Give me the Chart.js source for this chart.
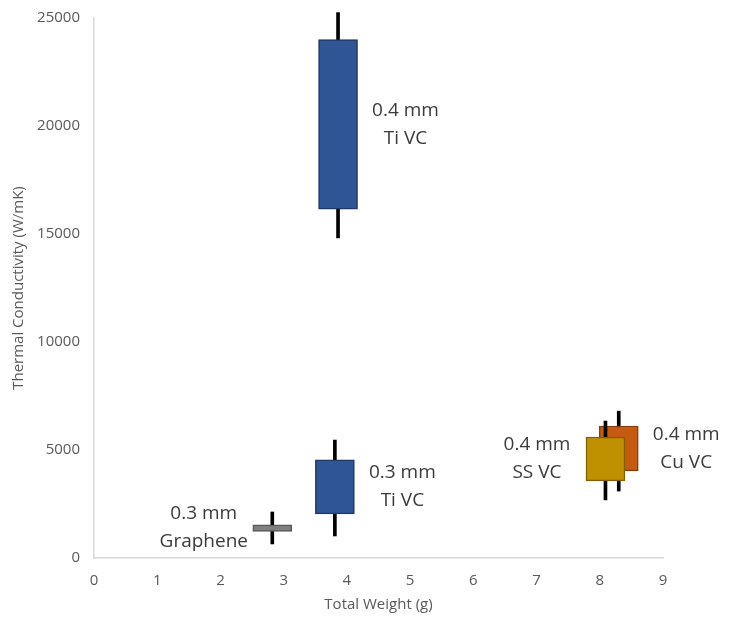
<!DOCTYPE html>
<html>
<head>
<meta charset="utf-8">
<script src="https://cdn.jsdelivr.net/npm/chart.js@4"></script>
<style>
  html, body { margin: 0; padding: 0; background: #fff; }
  #wrap { width: 733px; height: 618px; }
</style>
</head>
<body>
<div id="wrap"><canvas id="chart" width="733" height="618"></canvas></div>
<script>
// data
var names = ['0.3 mm|Graphene', '0.3 mm|Ti VC', '0.4 mm|Ti VC', '0.4 mm|Cu VC', '0.4 mm|SS VC'];
var weight = [2.82, 3.81, 3.86, 8.3, 8.09];
var boxLow = [1230, 2040, 16150, 4030, 3570];
var boxHigh = [1540, 4540, 24000, 6110, 5600];
var lowVals = [650, 1020, 14820, 3100, 2690];
var highVals = [2130, 5460, 25250, 6800, 6340];
var labelSide = ['left', 'right', 'right', 'right', 'left'];
var fills = ['#7f7f7f', '#2f5597', '#2f5597', '#c55a11', '#bf9000'];
var edges = ['#595959', '#203864', '#203864', '#843c0c', '#7f6000'];
var xTicks = [0, 1, 2, 3, 4, 5, 6, 7, 8, 9];
var yTicks = [0, 5000, 10000, 15000, 20000, 25000];

// whisker under its box, later items on top (dataset 0 is drawn last)
var sets = [];
for (var i = 0; i < names.length; i++) {
    sets.push({
        label: 'hl' + i,
        data: [{ x: weight[i], y: [lowVals[i], highVals[i]] }],
        backgroundColor: '#000',
        borderWidth: 0,
        barThickness: 3,
        clip: false
    });
    sets.push({
        label: names[i],
        data: [{ x: weight[i], y: [boxLow[i], boxHigh[i]] }],
        backgroundColor: fills[i],
        borderColor: edges[i],
        borderWidth: 1.5,
        borderSkipped: false,
        barThickness: 39,
        clip: false,
        boxIdx: i
    });
}
sets.reverse();

// labels next to each box
var boxLabels = {
    id: 'boxLabels',
    afterDatasetsDraw: function (chart) {
        var ctx = chart.ctx;
        ctx.save();
        ctx.font = '19px "Open Sans"';
        ctx.fillStyle = '#3a3a3a';
        ctx.textAlign = 'center';
        ctx.textBaseline = 'middle';
        chart.data.datasets.forEach(function (ds, di) {
            if (ds.boxIdx === undefined) return;
            var bar = chart.getDatasetMeta(di).data[0];
            var k = ds.boxIdx;
            var half = bar.width / 2;
            var cx = labelSide[k] == 'right' ? bar.x + half + 48 : bar.x - half - 49;
            var cy = (bar.y + bar.base) / 2;
            var lines = names[k].split('|');
            ctx.fillText(lines[0], cx, cy - 14);
            ctx.fillText(lines[1], cx, cy + 14);
        });
        ctx.restore();
    }
};

var tickFont = { family: '"Open Sans"', size: 15 };

new Chart(document.getElementById('chart').getContext('2d'), {
    type: 'bar',
    data: { datasets: sets },
    options: {
        responsive: false,
        animation: false,
        layout: { padding: { top: 18, right: 70, bottom: 0, left: 0 } },
        plugins: { legend: { display: false }, tooltip: { enabled: false } },
        scales: {
            x: {
                type: 'linear',
                stacked: true,
                offset: false,
                min: 0,
                max: 9,
                afterBuildTicks: function (s) { s.ticks = xTicks.map(function (v) { return { value: v }; }); },
                afterFit: function (s) { s.height = 60; },
                grid: { display: false },
                border: { display: true, color: '#d9d9d9', width: 1.5 },
                ticks: { color: '#595959', font: tickFont, padding: 6, maxRotation: 0 },
                title: { display: true, text: 'Total Weight (g)', color: '#595959', font: { family: '"Open Sans"', size: 15 }, padding: { top: 0 } }
            },
            y: {
                stacked: false,
                min: 0,
                max: 25000,
                afterBuildTicks: function (s) { s.ticks = yTicks.map(function (v) { return { value: v }; }); },
                afterFit: function (s) { s.width = 94; },
                grid: { display: false },
                border: { display: true, color: '#d9d9d9', width: 1.5 },
                ticks: { color: '#595959', font: tickFont, padding: 6, callback: function (v) { return String(v); } },
                title: { display: true, text: 'Thermal Conductivity (W/mK)', color: '#595959', font: { family: '"Open Sans"', size: 15 }, padding: { top: 10, bottom: 0 } }
            }
        }
    },
    plugins: [boxLabels]
});
</script>
</body>
</html>
